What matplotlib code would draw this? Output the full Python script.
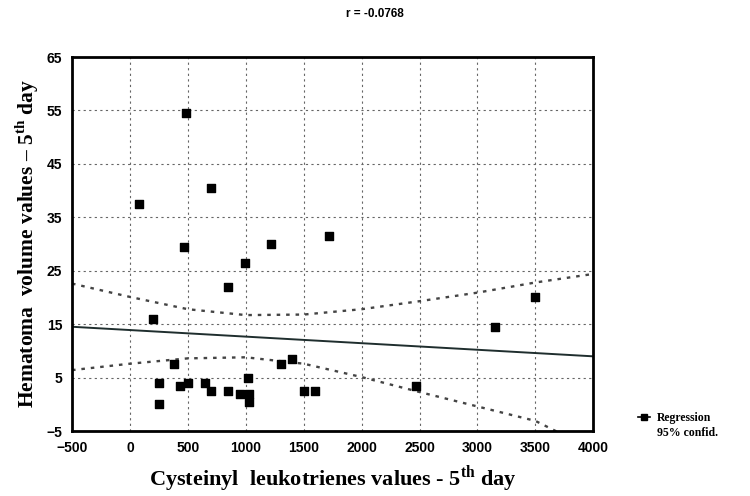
import numpy as np
import matplotlib.pyplot as plt
from matplotlib.lines import Line2D

plt.rcParams["mathtext.fontset"] = "custom"
plt.rcParams["mathtext.rm"] = "Liberation Serif"
plt.rcParams["mathtext.bf"] = "Liberation Serif:bold"

# data
cys_lt = [80, 480, 700, 470, 1220, 1720, 990, 850, 200, 380, 250, 250, 430, 500,
          650, 700, 850, 950, 1020, 1030, 1030, 1300, 1400, 1500, 1600, 2470, 3150, 3500]
hematoma = [37.5, 54.5, 40.5, 29.5, 30, 31.5, 26.5, 22, 16, 7.5, 4, 0, 3.5, 4,
            4, 2.5, 2.5, 2, 5, 2, 0.5, 7.5, 8.5, 2.5, 2.5, 3.5, 14.5, 20]

# regression line as drawn (intercept, slope)
reg_intercept = 13.9
reg_slope = -0.00123

# 95% confidence bands
band_x = [-500, 0, 500, 1000, 1500, 2000, 2500, 3000, 3500, 4000]
band_upper = [22.6, 20.1, 17.8, 16.7, 16.8, 17.8, 19.3, 20.9, 22.8, 24.4]
band_lower = [6.4, 7.6, 8.6, 8.8, 7.6, 5.1, 2.3, -0.4, -3.1, -8.5]

fig = plt.figure(figsize=(7.5, 4.96), dpi=100)
ax = fig.add_axes([0.096, 0.131, 0.695, 0.754])

xs = np.array([-500, 4000])
ax.plot(xs, reg_intercept + reg_slope * xs, color="#1f2e2e", lw=1.4)
ax.plot(band_x, band_upper, color="#444444", lw=1.7, ls=(0, (1.5, 2.5)))
ax.plot(band_x, band_lower, color="#444444", lw=1.7, ls=(0, (1.5, 2.5)))
ax.scatter(cys_lt, hematoma, marker="s", s=30, color="black", zorder=3)

ax.set_xlim(-500, 4000)
ax.set_ylim(-5, 65)
ax.set_xticks(range(-500, 4001, 500))
ax.set_yticks(range(-5, 66, 10))
ax.grid(True, color="#666666", ls=(0, (2, 3)), lw=0.8)
for sp in ax.spines.values():
    sp.set_linewidth(2)
ax.tick_params(length=0, pad=7)
for lab in ax.get_xticklabels() + ax.get_yticklabels():
    lab.set_fontweight("bold")
    lab.set_fontsize(10)
    lab.set_fontfamily("Liberation Sans")

ax.set_xlabel("Cysteinyl  leukotrienes values - 5$^{\\mathbf{th}}$ day",
              fontsize=16, fontweight="bold", family="Liberation Serif", labelpad=6)
ax.set_ylabel("Hematoma  volume values \u2013 5$^{\\mathbf{th}}$ day",
              fontsize=15.5, fontweight="bold", family="Liberation Serif", labelpad=4)
fig.text(0.5, 0.972, "r = -0.0768", ha="center", va="center",
         fontsize=8.5, fontweight="bold", family="Liberation Sans")

handles = [Line2D([], [], color="black", lw=1.2, marker="s", markersize=4),
           Line2D([], [], color="none")]
ax.legend(handles, ["Regression", "95% confid."], loc="center left",
          bbox_to_anchor=(1.065, 0.015), frameon=False, handlelength=1.0,
          handletextpad=0.6, labelspacing=0.3,
          prop={"family": "Liberation Serif", "size": 8.5, "weight": "bold"})

fig.savefig("out.png", dpi=100)
